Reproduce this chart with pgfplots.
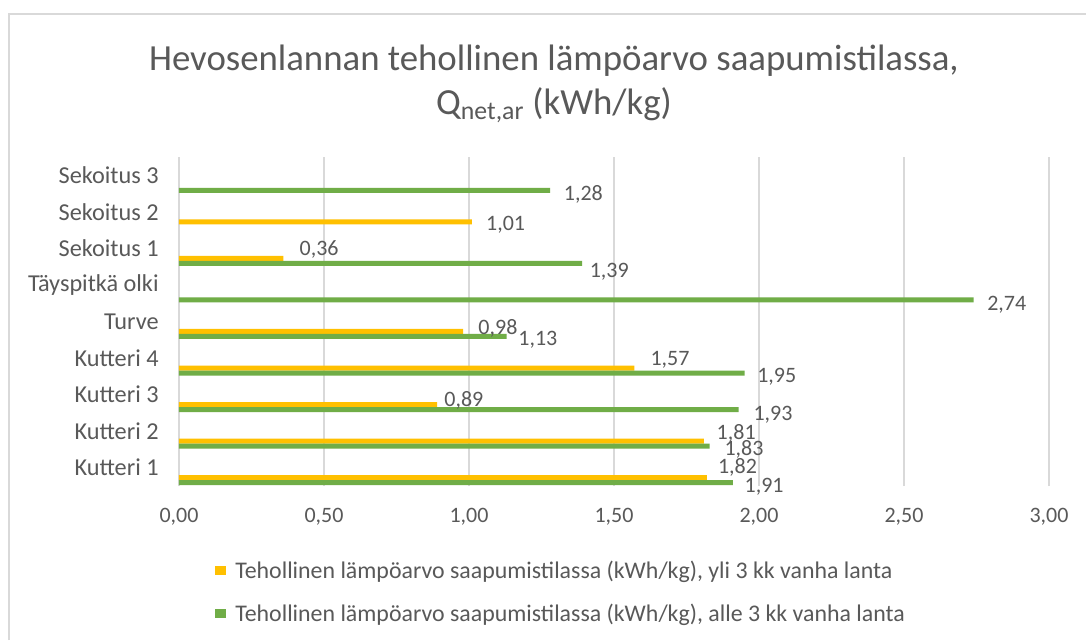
\documentclass[border=0pt]{standalone}
\usepackage{fontspec}
\setmainfont{Carlito}
\usepackage{pgfplots}
\usepackage{pgfplotstable}
\pgfplotsset{compat=1.18}
\pgfplotsset{/pgf/number format/assume math mode=true}
\definecolor{txt}{HTML}{595959}
\definecolor{grd}{HTML}{D9D9D9}
\definecolor{yel}{HTML}{FFC000}
\definecolor{grn}{HTML}{70AD47}

% y: 0=Kutteri 1 ... 8=Sekoitus 3 ; dx,dy = label offsets (pt)
\pgfplotstableread{
y x dx dy
0 1.82 8.25 0.5
1 1.81 9.4 -1.5
2 0.89 5.25 -4.25
3 1.57 12 -1.25
4 0.98 11.25 -5
6 0.36 12 -0.5
7 1.01 10.5 -9.5
}\yli
\pgfplotstableread{
y x dx dy
0 1.91 8.6 -14
1 1.83 10.9 -14
2 1.93 10.9 -14.75
3 1.95 9.4 -14
4 1.13 8.6 -14
5 2.74 10.1 -14.75
6 1.39 5.6 -17.5
8 1.28 10.1 -14
}\alle

\pgfplotsset{lbl/.style={
  nodes near coords={\pgfmathprintnumber[fixed,fixed zerofill,precision=2,use comma]{\pgfplotspointmeta}},
  point meta=x,
  visualization depends on={\thisrow{dx} \as \dx},
  visualization depends on={\thisrow{dy} \as \dy},
  every node near coord/.append style={anchor=west, inner sep=0pt, xshift=\dx pt, yshift=\dy pt,
    font=\fontsize{16.5}{20}\selectfont, text=txt},
}}

\begin{document}
\begin{tikzpicture}[x=1pt,y=1pt]
\useasboundingbox (0,0) rectangle (814.5,480);
\fill[white] (0,0) rectangle (814.5,480);
\draw[grd, line width=1.5pt] (6.75,0) -- (6.75,469.5) -- (814.5,469.5);
\node[font=\fontsize{27.6}{33}\selectfont, text=txt, align=center] at (415.5,417.4)
  {Hevosenlannan tehollinen lämpöarvo saapumistilassa,\\ Q\textsubscript{net,ar} (kWh/kg)};
\begin{axis}[
  at={(134.25pt,115.5pt)}, anchor=south west,
  scale only axis, width=652.5pt, height=246.75pt,
  xmin=0, xmax=3, ymin=-0.5, ymax=8.5,
  xtick={0,0.5,...,3},
  ytick={0,...,8},
  yticklabels={Kutteri 1,Kutteri 2,Kutteri 3,Kutteri 4,Turve,Täyspitkä olki,Sekoitus 1,Sekoitus 2,Sekoitus 3},
  xmajorgrids, grid style={grd, line width=1.1pt},
  axis line style={draw=none},
  major tick length=0pt,
  tick label style={font=\fontsize{16.5}{20}\selectfont, text=txt},
  x tick label style={/pgf/number format/.cd, fixed, fixed zerofill, precision=2, use comma, /tikz/.cd, yshift=-13pt},
  y tick label style={xshift=-11.75pt, font=\fontsize{18.2}{20}\selectfont},
  legend style={at={(0.0414,-0.219)}, anchor=north west, draw=none, fill=none,
    font=\fontsize{17.9}{20}\selectfont, text=txt, inner sep=0pt, row sep=13.5pt,
    /tikz/every odd column/.append style={column sep=5pt}},
  legend cell align=left,
  legend image code/.code={\fill[#1] (0pt,-3.4pt) rectangle (8pt,3.4pt);},
]
\addplot[xbar, bar width=0.137, bar shift=-0.273, fill=yel, draw=none, lbl]
  table[x=x, y=y] {\yli};
\addlegendentry{Tehollinen lämpöarvo saapumistilassa (kWh/kg), yli 3 kk vanha lanta}
\addplot[xbar, bar width=0.137, bar shift=-0.41, fill=grn, draw=none, lbl]
  table[x=x, y=y] {\alle};
\addlegendentry{Tehollinen lämpöarvo saapumistilassa (kWh/kg), alle 3 kk vanha lanta}
\end{axis}
\end{tikzpicture}
\end{document}
